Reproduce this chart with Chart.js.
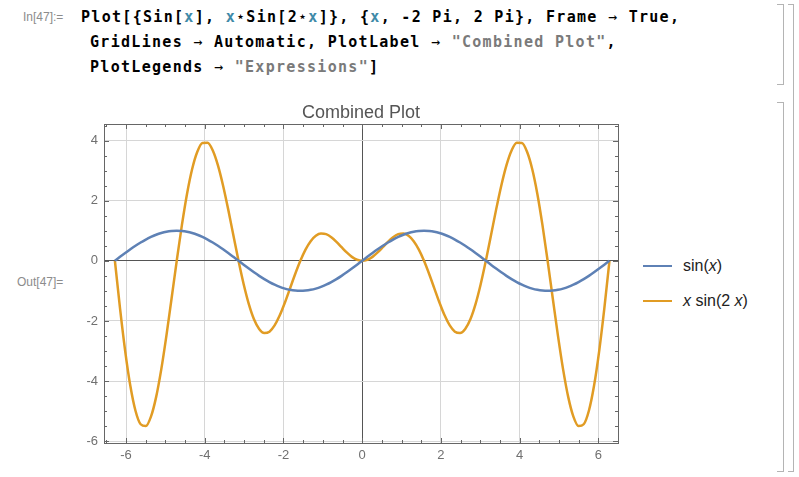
<!DOCTYPE html>
<html>
<head>
<meta charset="utf-8">
<script src="https://cdn.jsdelivr.net/npm/chart.js@4.4.0/dist/chart.umd.min.js"></script>
<style>
  body { margin: 0; width: 799px; height: 477px; background: #fff; position: relative; overflow: hidden; font-family: "Liberation Sans", Arial, sans-serif; }
  .cellLabel { position: absolute; color: #8c8c8c; font-size: 12px; line-height: 14px; white-space: pre; }
  .code { position: absolute; left: 81px; font-family: "DejaVu Sans Mono", monospace; font-weight: bold; font-size: 15px; letter-spacing: 1.3px; line-height: 20px; color: #000; white-space: pre; }
  .code .v { color: #3f8aa8; }
  .code .s { color: #7a7a7a; }
  .code .a { font-weight: normal; }
  #chartBox { position: absolute; left: 0; top: 95px; width: 640px; height: 382px; }
  .legendItem { position: absolute; left: 643px; height: 22px; display: flex; align-items: center; font-size: 16px; color: #222; white-space: nowrap; }
  .legendItem .swatch { width: 29px; height: 2.5px; margin-right: 11px; }
  .bracket { position: absolute; border: 1px solid #b4b4b4; border-left: none; }
</style>
</head>
<body>
<div class="cellLabel" style="left:23px; top:10px;">In[47]:=</div>
<div class="code" style="top:7px;">Plot[{Sin[<span class="v">x</span>], <span class="v">x</span>⋆Sin[2⋆<span class="v">x</span>]}, {<span class="v">x</span>, -2 Pi, 2 Pi}, Frame <span class="a">→</span> True,</div>
<div class="code" style="top:32px; left:90px;">GridLines <span class="a">→</span> Automatic, PlotLabel <span class="a">→</span> <span class="s">"Combined Plot"</span>,</div>
<div class="code" style="top:57px; left:90px;">PlotLegends <span class="a">→</span> <span class="s">"Expressions"</span>]</div>
<div class="cellLabel" style="left:17px; top:275px;">Out[47]=</div>

<div id="chartBox"><canvas id="plot" width="640" height="382"></canvas></div>
<div id="legend"></div>

<div class="bracket" style="left:777px; top:4px; width:6px; height:79px;"></div>
<div class="bracket" style="left:777px; top:102px; width:6px; height:368px;"></div>
<div class="bracket" style="left:788px; top:4px; width:5px; height:466px;"></div>

<script>
// samples at k*pi/24
const xValues = [-6.283, -6.152, -6.021, -5.890, -5.760, -5.629, -5.498, -5.367, -5.236, -5.105, -4.974, -4.843,
  -4.712, -4.581, -4.451, -4.320, -4.189, -4.058, -3.927, -3.796, -3.665, -3.534, -3.403, -3.273,
  -3.142, -3.011, -2.880, -2.749, -2.618, -2.487, -2.356, -2.225, -2.094, -1.963, -1.833, -1.702,
  -1.571, -1.440, -1.309, -1.178, -1.047, -0.916, -0.785, -0.654, -0.524, -0.393, -0.262, -0.131,
  0,
  0.131, 0.262, 0.393, 0.524, 0.654, 0.785, 0.916, 1.047, 1.178, 1.309, 1.440, 1.571,
  1.702, 1.833, 1.963, 2.094, 2.225, 2.356, 2.487, 2.618, 2.749, 2.880, 3.011, 3.142,
  3.273, 3.403, 3.534, 3.665, 3.796, 3.927, 4.058, 4.189, 4.320, 4.451, 4.581, 4.712,
  4.843, 4.974, 5.105, 5.236, 5.367, 5.498, 5.629, 5.760, 5.890, 6.021, 6.152, 6.283]
const sinValues = [0, 0.131, 0.259, 0.383, 0.5, 0.609, 0.707, 0.793, 0.866, 0.924, 0.966, 0.991,
  1, 0.991, 0.966, 0.924, 0.866, 0.793, 0.707, 0.609, 0.5, 0.383, 0.259, 0.131,
  0, -0.131, -0.259, -0.383, -0.5, -0.609, -0.707, -0.793, -0.866, -0.924, -0.966, -0.991,
  -1, -0.991, -0.966, -0.924, -0.866, -0.793, -0.707, -0.609, -0.5, -0.383, -0.259, -0.131,
  0,
  0.131, 0.259, 0.383, 0.5, 0.609, 0.707, 0.793, 0.866, 0.924, 0.966, 0.991, 1,
  0.991, 0.966, 0.924, 0.866, 0.793, 0.707, 0.609, 0.5, 0.383, 0.259, 0.131, 0,
  -0.131, -0.259, -0.383, -0.5, -0.609, -0.707, -0.793, -0.866, -0.924, -0.966, -0.991, -1,
  -0.991, -0.966, -0.924, -0.866, -0.793, -0.707, -0.609, -0.5, -0.383, -0.259, -0.131, 0]
const xSin2xValues = [0, -1.592, -3.011, -4.165, -4.988, -5.437, -5.498, -5.184, -4.534, -3.61, -2.487, -1.253,
  0, 1.186, 2.225, 3.055, 3.628, 3.92, 3.927, 3.667, 3.174, 2.499, 1.702, 0.847,
  0, -0.779, -1.44, -1.944, -2.267, -2.402, -2.356, -2.149, -1.814, -1.388, -0.916, -0.44,
  0, 0.373, 0.654, 0.833, 0.907, 0.885, 0.785, 0.632, 0.453, 0.278, 0.131, 0.034,
  0,
  0.034, 0.131, 0.278, 0.453, 0.632, 0.785, 0.885, 0.907, 0.833, 0.654, 0.373, 0,
  -0.44, -0.916, -1.388, -1.814, -2.149, -2.356, -2.402, -2.267, -1.944, -1.44, -0.779, 0,
  0.847, 1.702, 2.499, 3.174, 3.667, 3.927, 3.92, 3.628, 3.055, 2.225, 1.186, 0,
  -1.253, -2.487, -3.61, -4.534, -5.184, -5.498, -5.437, -4.988, -4.165, -3.011, -1.592, 0]

const xTicks = [-6, -4, -2, 0, 2, 4, 6]
const yTicks = [-6, -4, -2, 0, 2, 4]
const seriesLabels = ['sin(x)', 'x sin(2 x)']
const legendLabels = ['sin(<i>x</i>)', '<i>x</i> sin(2 <i>x</i>)']
const seriesColors = ['#5e81b5', '#e19c24']
const plotTitle = 'Combined Plot'

const toPoints = (ys) => xValues.map((x, i) => ({ x, y: ys[i] }))

// frame with inward major/minor ticks on all four sides
const frameTicks = {
  id: 'frameTicks',
  beforeDatasetsDraw (chart) {
    const { ctx, chartArea: a, scales: { x, y } } = chart
    ctx.save()
    ctx.strokeStyle = '#666'
    ctx.lineWidth = 1
    ctx.beginPath()
    for (let v = -6.5; v <= 6.5; v += 0.5) {
      const px = Math.round(x.getPixelForValue(v)) + 0.5
      if (px < a.left + 1 || px > a.right - 1) continue
      const len = v % 2 === 0 ? 5 : 3
      ctx.moveTo(px, a.bottom); ctx.lineTo(px, a.bottom - len)
      ctx.moveTo(px, a.top); ctx.lineTo(px, a.top + len)
    }
    for (let v = -6; v <= 4.5; v += 0.5) {
      const py = Math.round(y.getPixelForValue(v)) + 0.5
      if (py < a.top + 1 || py > a.bottom - 1) continue
      const len = v % 2 === 0 ? 5 : 3
      ctx.moveTo(a.left, py); ctx.lineTo(a.left + len, py)
      ctx.moveTo(a.right, py); ctx.lineTo(a.right - len, py)
    }
    ctx.stroke()
    ctx.strokeRect(Math.round(a.left) + 0.5, Math.round(a.top) + 0.5, Math.round(a.right - a.left), Math.round(a.bottom - a.top))
    ctx.restore()
  }
}

const tickFont = { family: '"Liberation Sans", Arial, sans-serif', size: 13 }
const gridColor = (c) => (c.tick && c.tick.value === 0 ? '#555' : '#d6d6d6')

const chartIst = new Chart(document.getElementById('plot'), {
  type: 'line',
  data: {
    datasets: [
      { label: seriesLabels[0], data: toPoints(sinValues), borderColor: seriesColors[0] },
      { label: seriesLabels[1], data: toPoints(xSin2xValues), borderColor: seriesColors[1] }
    ]
  },
  options: {
    responsive: false,
    animation: false,
    devicePixelRatio: 1,
    layout: { padding: { left: 0, right: 22, top: 0, bottom: 0 } },
    elements: {
      point: { radius: 0 },
      line: { borderWidth: 2.5, cubicInterpolationMode: 'monotone', fill: false }
    },
    plugins: {
      legend: { display: false },
      tooltip: { enabled: false },
      title: {
        display: true,
        text: plotTitle,
        fullSize: false,
        color: '#555',
        font: { family: '"Liberation Sans", Arial, sans-serif', size: 18, weight: 'normal', lineHeight: 1.2 },
        padding: { top: 7, bottom: 0.4 }
      }
    },
    scales: {
      x: {
        type: 'linear',
        min: -6.56,
        max: 6.5,
        afterBuildTicks: (s) => { s.ticks = xTicks.map((v) => ({ value: v })) },
        afterFit: (s) => { s.height = 34 },
        border: { display: false },
        grid: { color: gridColor, drawTicks: false, lineWidth: 1 },
        ticks: { color: '#707070', font: tickFont, padding: 5, maxRotation: 0, autoSkip: false, callback: (v) => String(v) }
      },
      y: {
        min: -6.06,
        max: 4.55,
        afterBuildTicks: (s) => { s.ticks = yTicks.map((v) => ({ value: v })) },
        afterFit: (s) => { s.width = 104 },
        border: { display: false },
        grid: { color: gridColor, drawTicks: false, lineWidth: 1 },
        ticks: { color: '#707070', font: tickFont, padding: 6, autoSkip: false, callback: (v) => String(v) }
      }
    }
  },
  plugins: [frameTicks]
})

// html legend so the variable can be set in italics
const legendDom = document.getElementById('legend')
chartIst.data.datasets.forEach((ds, i) => {
  const item = document.createElement('div')
  item.className = 'legendItem'
  item.style.top = (255 + i * 35) + 'px'
  item.innerHTML = '<span class="swatch" style="background:' + ds.borderColor + '"></span><span>' + legendLabels[i] + '</span>'
  legendDom.appendChild(item)
})
</script>
</body>
</html>
